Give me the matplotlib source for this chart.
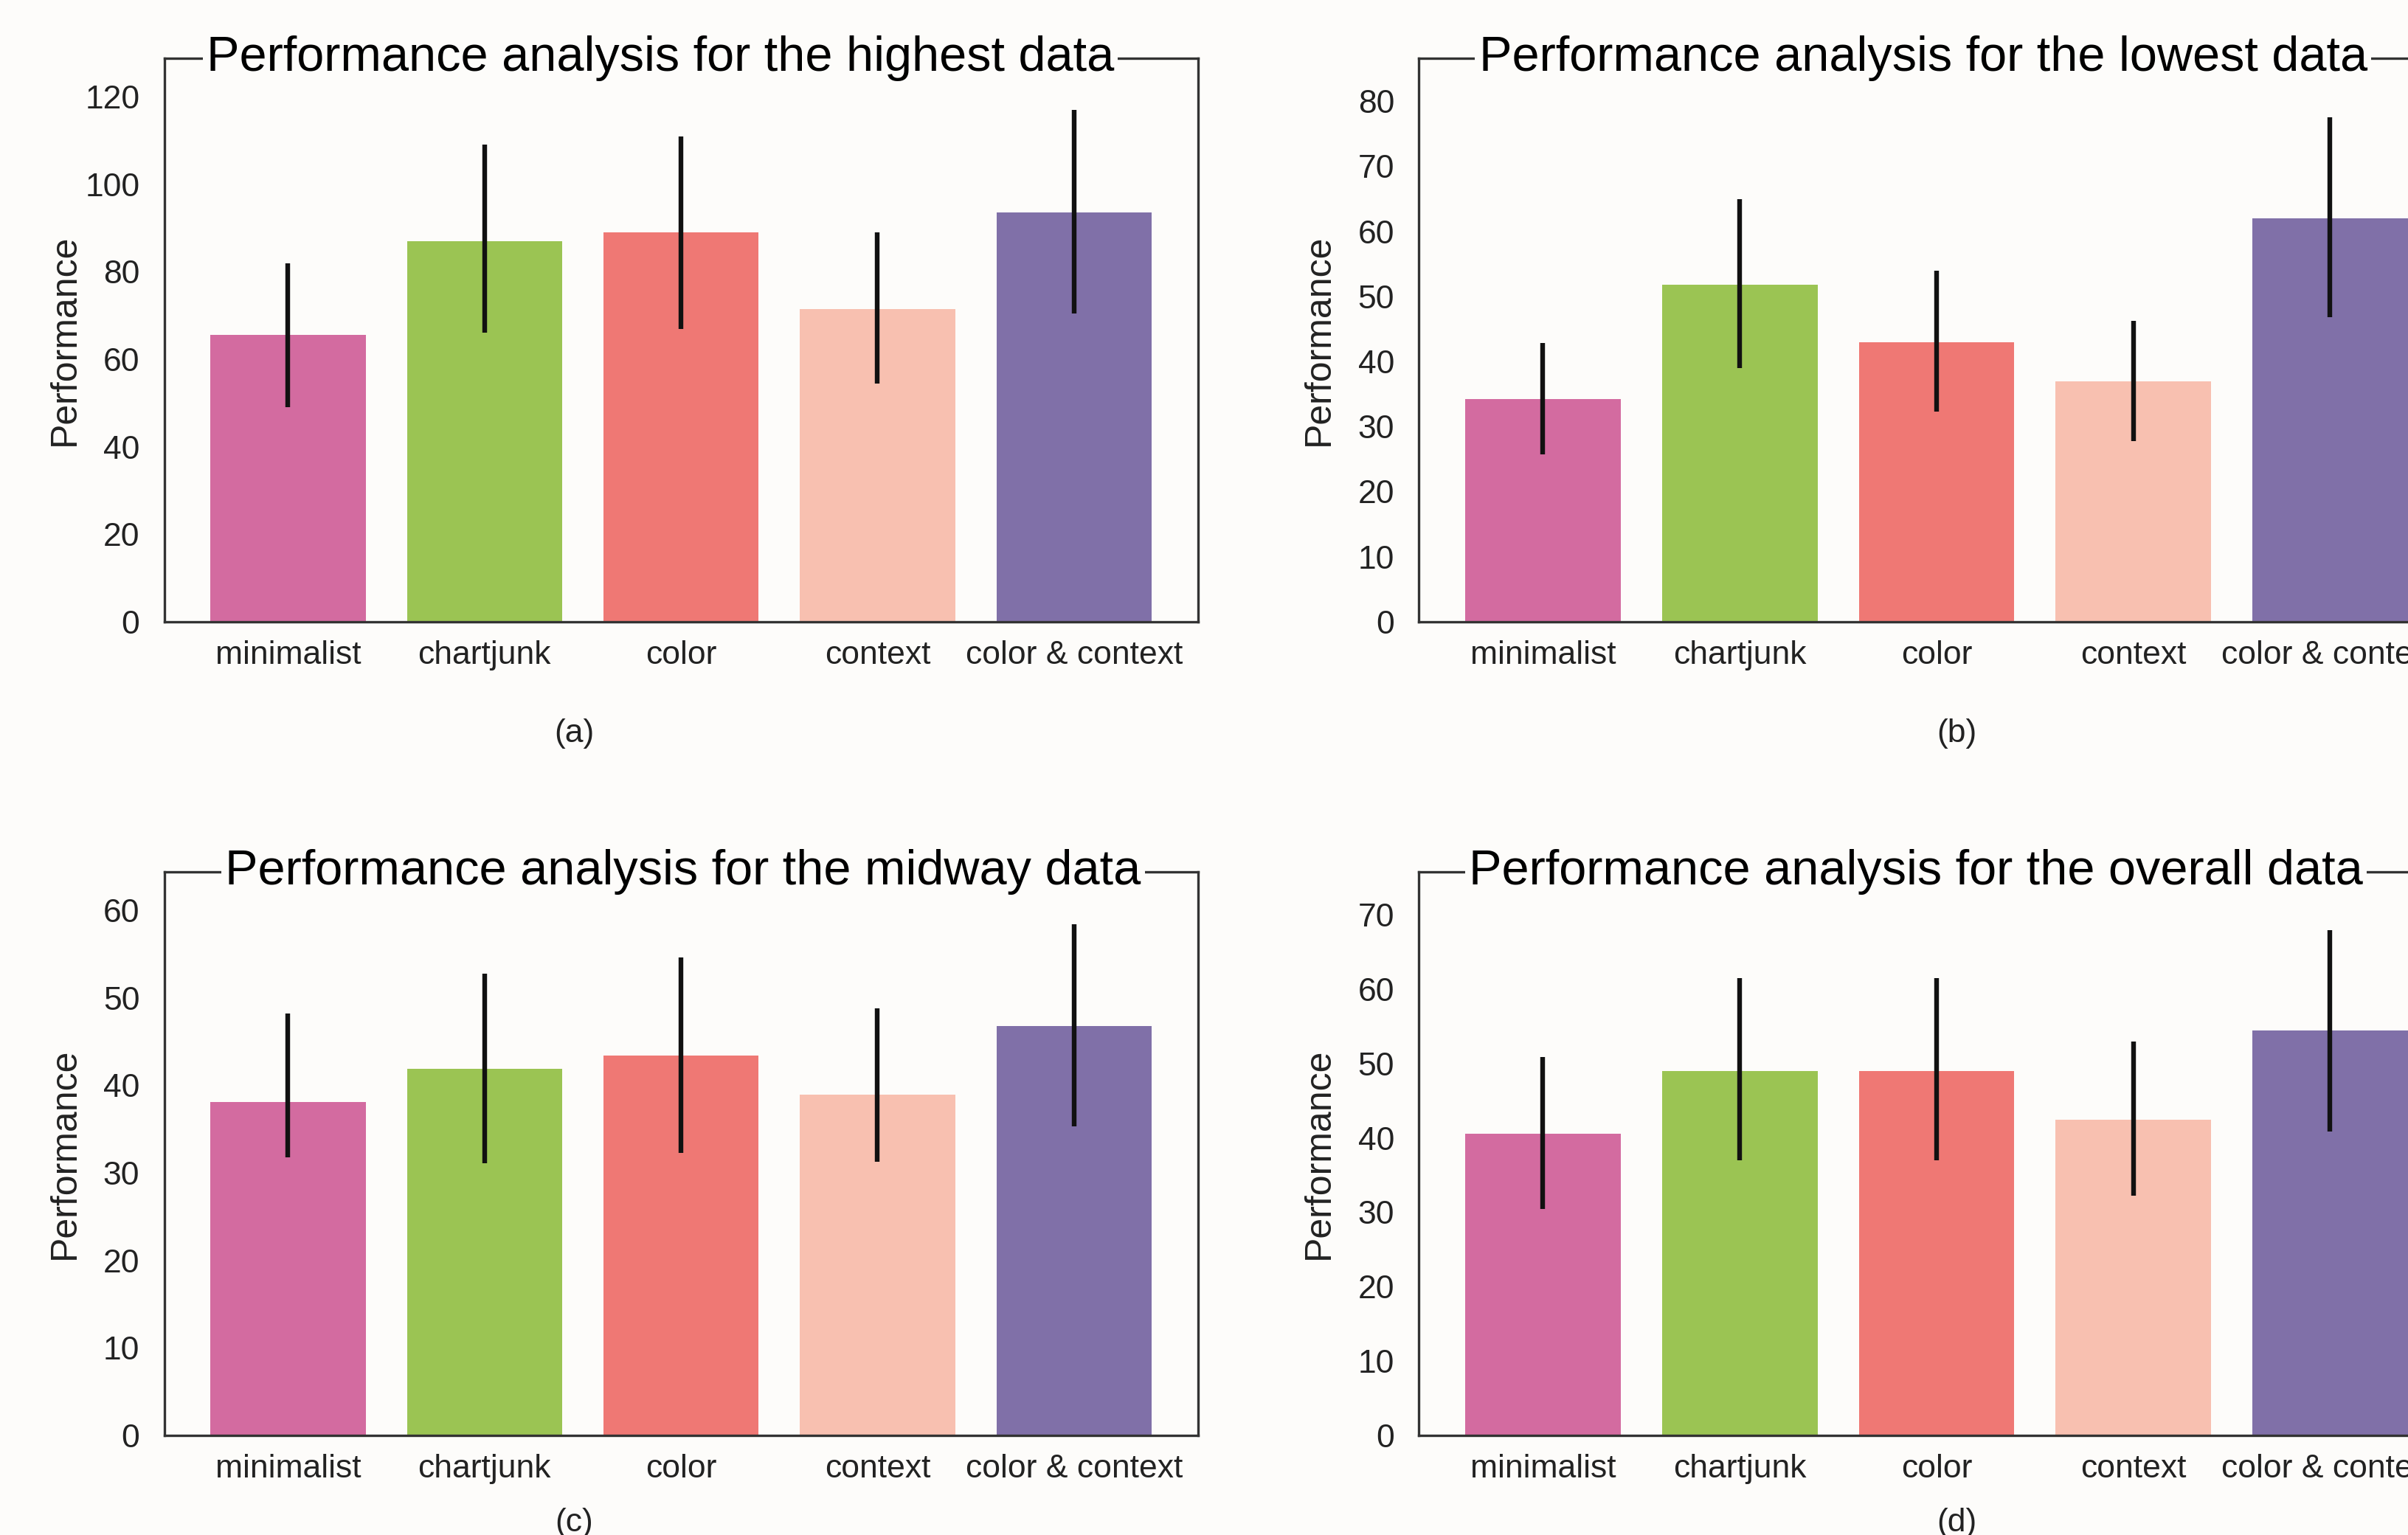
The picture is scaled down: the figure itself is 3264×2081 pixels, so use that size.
import matplotlib
matplotlib.use('Agg')
import matplotlib.pyplot as plt

# Data
categories = ['minimalist', 'chartjunk', 'color', 'context', 'color & context']
colors = ['#d36ba0', '#9bc453', '#ef7874', '#f8c0b0', '#8070a8']

titles = ['Performance analysis for the highest data',
          'Performance analysis for the lowest data',
          'Performance analysis for the midway data',
          'Performance analysis for the overall data']
panel_tags = ['(a)', '(b)', '(c)', '(d)']

highest_mean = [65.5, 87.0, 89.0, 71.5, 93.5]
highest_low = [49.0, 66.0, 67.0, 54.5, 70.5]
highest_high = [82.0, 109.0, 111.0, 89.0, 117.0]

lowest_mean = [34.2, 51.8, 43.0, 37.0, 62.0]
lowest_low = [25.7, 39.0, 32.3, 27.8, 46.8]
lowest_high = [42.8, 65.0, 54.0, 46.2, 77.5]

midway_mean = [38.1, 41.9, 43.4, 38.9, 46.8]
midway_low = [31.8, 31.1, 32.3, 31.3, 35.3]
midway_high = [48.2, 52.8, 54.6, 48.8, 58.4]

overall_mean = [40.6, 49.0, 49.0, 42.5, 54.5]
overall_low = [30.4, 37.0, 37.0, 32.2, 40.9]
overall_high = [50.9, 61.5, 61.5, 53.0, 68.0]

y_ticks = [list(range(0, 121, 20)), list(range(0, 81, 10)),
           list(range(0, 61, 10)), list(range(0, 71, 10))]
y_tops = [128.8, 86.6, 64.4, 75.8]

bg = '#fdfcfa'
fig = plt.figure(figsize=(16.32, 10.405), dpi=200, facecolor=bg)

# axes boxes [left, bottom, width, height] in figure fraction
boxes = [[0.0682, 0.595, 0.4292, 0.367],
         [0.5893, 0.595, 0.4298, 0.367],
         [0.0682, 0.065, 0.4292, 0.367],
         [0.5893, 0.065, 0.4298, 0.367]]
title_x = [0.48, 0.487, 0.502, 0.48]
tag_pos = [(0.2385, 0.522), (0.8125, 0.522), (0.2385, 0.008), (0.8125, 0.008)]

series = [(highest_mean, highest_low, highest_high),
          (lowest_mean, lowest_low, lowest_high),
          (midway_mean, midway_low, midway_high),
          (overall_mean, overall_low, overall_high)]

x = list(range(len(categories)))
for i, (mean, lo, hi) in enumerate(series):
    ax = fig.add_axes(boxes[i])
    ax.set_facecolor(bg)
    ax.bar(x, mean, width=0.79, color=colors, zorder=1)
    ax.vlines(x, lo, hi, color='#111111', linewidth=2.3, zorder=3)
    ax.set_xlim(-0.63, 4.63)
    ax.set_ylim(0, y_tops[i])
    ax.set_yticks(y_ticks[i])
    ax.set_xticks(x)
    ax.set_xticklabels(categories)
    ax.tick_params(length=0, labelsize=16, colors='#222222')
    ax.tick_params(axis='x', pad=9)
    ax.tick_params(axis='y', pad=12)
    for lab in ax.get_xticklabels() + ax.get_yticklabels():
        lab.set_family('Liberation Sans')
    for s in ax.spines.values():
        s.set_color('#333333')
        s.set_linewidth(1.2)
    ax.set_ylabel('Performance', fontsize=18, family='Liberation Sans',
                  color='#222222')
    ax.yaxis.set_label_coords(-0.08, 0.5)
    ax.text(title_x[i], 1.0, titles[i], transform=ax.transAxes, ha='center',
            va='center', fontsize=24, family='Liberation Sans', color='black',
            clip_on=False, zorder=5,
            bbox=dict(boxstyle='square,pad=0.08', facecolor=bg, edgecolor='none'))
    fig.text(tag_pos[i][0], tag_pos[i][1], panel_tags[i], ha='center', va='center',
             fontsize=16, family='Liberation Sans', color='#222222')

fig.savefig('out.png', dpi=200, facecolor=bg)
